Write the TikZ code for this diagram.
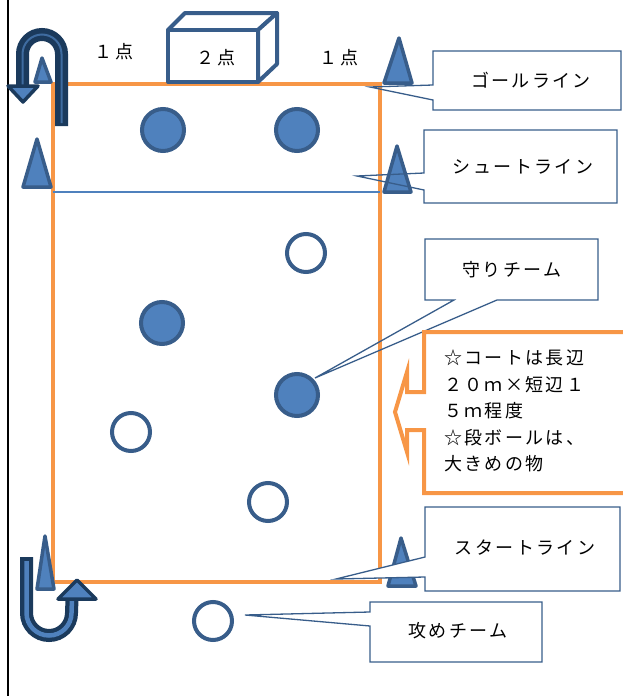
\documentclass[tikz,border=0pt]{standalone}
\usepackage{fontspec}
\newfontfamily\jp[LetterSpace=13]{Noto Sans CJK JP}
\definecolor{orng}{HTML}{F79646}
\definecolor{bfill}{HTML}{4F81BD}
\definecolor{bline}{HTML}{385D8A}
\definecolor{navy}{HTML}{1B3A5C}
\begin{document}
\begin{tikzpicture}[x=1pt,y=-1pt,
  lbl/.style={font=\jp\fontsize{18}{20}\selectfont, inner sep=0pt},
  court/.style={draw=orng, line width=4pt},
  filled/.style={circle, draw=bline, fill=bfill, line width=4pt, minimum size=42pt, inner sep=0pt},
  ring/.style={circle, draw=bline, fill=white, line width=4pt, minimum size=38pt, inner sep=0pt},
  cone/.style={draw=bline, fill=bfill, line width=3.5pt, line join=round},
  callout/.style={draw=bline, line width=1.3pt},
  shaft/.style={draw=navy, line width=13pt},
  stripe/.style={draw=bfill, line width=3pt},
  head/.style={draw=navy, fill=bfill, line width=3.5pt, line join=round},
  cube/.style={draw=bline, fill=white, line width=4pt, line join=round}]
\useasboundingbox (0,0) rectangle (622,696);
% left boundary line
\draw[line width=2pt] (8,0) -- (8,696);
% court
\draw[court] (52.5,84) rectangle (380,582);
\draw[draw=bfill, line width=1.5pt] (52.5,192) -- (380,192);
% players
\node[filled] (d1) at (163,130) {};
\node[filled] (d2) at (297,130) {};
\node[filled] (d3) at (162,323) {};
\node[filled] (d4) at (297,395) {};
\node[ring] (o1) at (306,253) {};
\node[ring] (o2) at (131,432) {};
\node[ring] (o3) at (268,502) {};
\node[ring] (o4) at (213,621) {};
% cardboard box
\draw[cube] (168,30) -- (185,13) -- (277,13) -- (258,30) -- cycle;
\draw[cube] (258,30) -- (277,13) -- (277,64) -- (258,82) -- cycle;
\draw[cube] (168,30) rectangle (258,82);
\node[lbl] (p2) at (216,58) {２点};
\node[lbl] (p1a) at (114,52) {１点};
\node[lbl] (p1b) at (339,58) {１点};
% cones
\draw[cone] (35,82) -- (51,82) -- (42,58) -- cycle;
\draw[cone] (23,187) -- (51,187) -- (37,139) -- cycle;
\draw[cone] (384,83) -- (412,83) -- (399,38) -- cycle;
\draw[cone] (384,192) -- (411,192) -- (397,146) -- cycle;
\draw[cone] (37,589) -- (54,589) -- (45,536) -- cycle;
\draw[cone] (388,586) -- (416,586) -- (401,538) -- cycle;
% callouts
\draw[callout] (433,85) -- (433,51) -- (621,51) -- (621,110) -- (433,110) -- (433,100) -- (370,87) -- cycle;
\node[lbl] (goal) at (531,80) {ゴールライン};
\draw[callout] (424,173) -- (424,130) -- (617,130) -- (617,203) -- (424,203) -- (424,190) -- (357,176) -- cycle;
\node[lbl] (shoot) at (523,167) {シュートライン};
\draw[callout] (454,300) -- (425,300) -- (425,239) -- (598,239) -- (598,300) -- (497,300) -- (315,378) -- cycle;
\node[lbl] (def) at (512,270) {守りチーム};
\draw[callout, fill=white] (425,557) -- (425,507) -- (620,507) -- (620,591) -- (425,591) -- (425,577) -- (336,579) -- cycle;
\node[lbl] (start) at (525,548) {スタートライン};
\draw[callout] (370,612) -- (370,602) -- (542,602) -- (542,662) -- (370,662) -- (370,626) -- (245,615) -- cycle;
\node[lbl] (att) at (458,631) {攻めチーム};
% note callout
\draw[draw=orng, line width=4pt, line join=miter] (623,332) -- (424,332) -- (424,392) -- (407,392) -- (407,372) -- (395,412) -- (407,452) -- (407,430) -- (424,430) -- (424,493) -- (623,493);
\node[lbl, anchor=west] (n1) at (444,358) {☆コートは長辺};
\node[lbl, anchor=west] (n2) at (444,384.5) {２０ｍ×短辺１};
\node[lbl, anchor=west] (n3) at (444,411) {５ｍ程度};
\node[lbl, anchor=west] (n4) at (444,437.5) {☆段ボールは、};
\node[lbl, anchor=west] (n5) at (444,464) {大きめの物};
% U-turn arrow top-left
\draw[shaft] (61.5,126) -- (61.5,54) arc[start angle=0, end angle=180, radius=19.5pt] -- (22.5,86);
\draw[draw=bfill!70!navy, line width=2pt] (61.5,123) -- (61.5,54) arc[start angle=0, end angle=180, radius=19.5pt] -- (22.5,86);
\draw[head] (8,86) -- (38,86) -- (23,102) -- cycle;
% U-turn arrow bottom-left
\draw[shaft] (26.5,557) -- (26.5,613) arc[start angle=180, end angle=360, radius=22.5pt] -- (72,599);
\draw[stripe, line width=4.5pt] (26.5,561) -- (26.5,613) arc[start angle=180, end angle=360, radius=22.5pt] -- (72,599);
\draw[head] (58,599) -- (96,599) -- (77,580) -- cycle;
\end{tikzpicture}
\end{document}
